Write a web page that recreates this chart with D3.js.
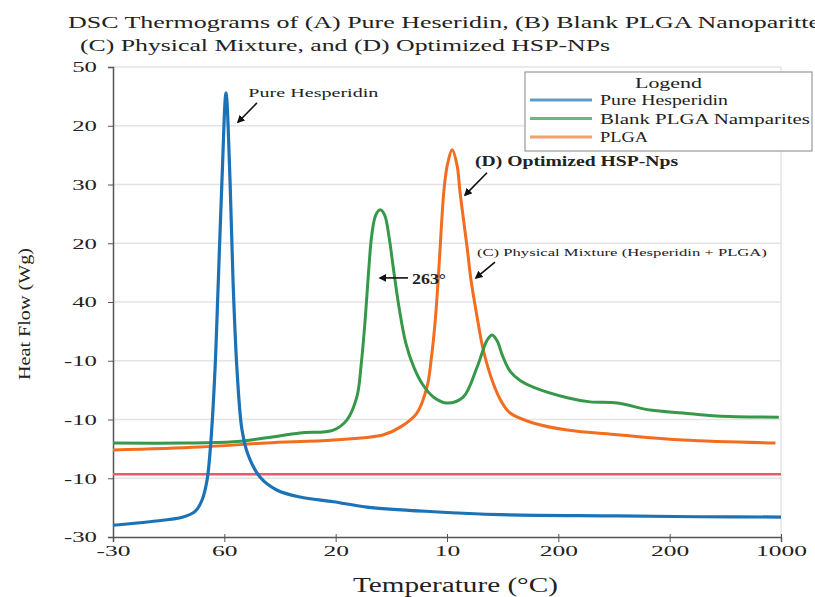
<!DOCTYPE html>
<html>
<head>
<meta charset="utf-8">
<script src="https://cdn.jsdelivr.net/npm/d3@7"></script>
<style>
  body{margin:0;background:#fff;}
  text{font-family:"Liberation Serif","Times New Roman",serif;fill:#222;}
</style>
</head>
<body>
<div class="canvas"></div>
<script>
// tick labels exactly as printed on the chart
const xTickLabels=['-30','60','20','10','200','200','1000'];
const yTickLabels=['-30','-10','-10','-10','40','20','30','20','50']; // bottom -> top

// (A) pure hesperidin
const tempBlue=[0,33,63,74,80,84.5,88,91.6,94.3,97.9,101.5,105.1,107.8,111.4,115.9,121.3,132,147,168,198,228,288,348,453,527,600];
const flowBlue=[2.0,2.6,3.4,4.4,6.3,9.7,16.5,28.4,42,60.8,75.6,60.8,43.7,28.4,18.2,14.0,10.2,8.0,6.8,6.0,5.1,4.3,3.8,3.6,3.45,3.4];

// (B) blank PLGA nanoparticles
const tempGreen=[0,63,108,138,168,198,210,219,223,226.5,229.5,232.5,236,240,244,248,252,257,263,270,278,288,300,314.5,327,336,340.5,345,350,356.7,366,377.4,408,428.6,453,482.5,512,542.7,598];
const flowGreen=[16.0,16.0,16.2,16.9,17.7,18.2,19.9,23.8,29.5,37,45,51.5,54.8,55.7,54.8,51,45.5,39,33,29,26,23.8,22.8,23.8,28.9,33.5,34.4,33.4,30.8,28.2,26.6,25.5,23.7,23.0,22.8,21.6,21.1,20.6,20.4];

// PLGA
const tempOrange=[0,78,138,198,243,258,273,282,286,289.5,292.5,295,297.5,300.5,304.6,309,311.8,318,321.6,327,332.4,341.4,349,356.7,377.4,408,453,512,595];
const flowOrange=[14.8,15.3,16.0,16.5,17.4,18.7,21.1,25.5,30.5,37,45,53,59.5,63.5,65.9,63.3,58.5,49.4,43.7,37.5,32.0,26.2,23.0,21.1,19.4,18.2,17.4,16.5,16.0];

// baseline (red)
const tempBase=[0,600];
const flowBase=[10.7,10.7];

const legendNames=['Pure Hesperidin','Blank PLGA Namparites','PLGA'];
const legendColors=['#5b9cc9','#6cb87c','#f2a06c'];

const dims={left:113,right:781,top:67,bottom:537};

const svg=d3.select('.canvas')
.append('svg')
.attr('width',815)
.attr('height',597);

const x=d3.scaleLinear().domain([0,600]).range([dims.left,dims.right]);
const y=d3.scaleLinear().domain([0,80]).range([dims.bottom,dims.top]);

// stretch text horizontally like the (squashed) original image
const widen=(sel,k)=>sel.each(function(){
    const w=this.getComputedTextLength();
    d3.select(this).attr('textLength',w*k).attr('lengthAdjust','spacingAndGlyphs');
});
const fit=(sel,w)=>sel.attr('textLength',w).attr('lengthAdjust','spacingAndGlyphs');

// grid
svg.append('g')
.selectAll('line')
.data(d3.range(10,81,10))
.enter().append('line')
.attr('x1',dims.left).attr('x2',dims.right)
.attr('y1',d=>y(d)).attr('y2',d=>y(d))
.attr('stroke','#e4e4e4')
.attr('stroke-width',1.5);

svg.append('line')
.attr('x1',dims.right).attr('x2',dims.right)
.attr('y1',dims.top).attr('y2',dims.bottom)
.attr('stroke','#e4e4e4')
.attr('stroke-width',1.5);

// axes
const xAxis=d3.axisBottom(x)
.tickValues(d3.range(0,601,100))
.tickFormat((d,i)=>xTickLabels[i])
.tickSize(5);

const yAxis=d3.axisLeft(y)
.tickValues(d3.range(0,81,10))
.tickFormat((d,i)=>yTickLabels[i])
.tickSize(5);

const xg=svg.append('g')
.attr('transform',`translate(0,${dims.bottom})`)
.call(xAxis);
xg.selectAll('text').attr('y',8).attr('font-size',15).attr('fill','#333');
xg.selectAll('line,path').attr('stroke','#555');
xg.selectAll('.tick line').attr('y1',-3);
widen(xg.selectAll('text'),1.7);

const yg=svg.append('g')
.attr('transform',`translate(${dims.left},0)`)
.call(yAxis);
yg.selectAll('text').attr('x',-16).attr('font-size',15).attr('fill','#333');
yg.selectAll('line,path').attr('stroke','#555');
widen(yg.selectAll('text'),1.65);
svg.selectAll('.domain').attr('stroke-width',1.5);

// lines
const line=d3.line()
.x(d=>x(d[0]))
.y(d=>y(d[1]))
.curve(d3.curveCatmullRom.alpha(0.5));

const series=[
    {t:tempBase,f:flowBase,color:'#e45c70',w:2.5},
    {t:tempOrange,f:flowOrange,color:'#f26d1f',w:3},
    {t:tempGreen,f:flowGreen,color:'#37984a',w:3},
    {t:tempBlue,f:flowBlue,color:'#1c72b6',w:3.2}
];

svg.append('g')
.selectAll('path')
.data(series)
.enter().append('path')
.attr('d',s=>line(d3.zip(s.t,s.f)))
.attr('fill','none')
.attr('stroke',s=>s.color)
.attr('stroke-width',s=>s.w)
.attr('stroke-linejoin','round');

// arrow marker
svg.append('defs').append('marker')
.attr('id','arr')
.attr('viewBox','0 0 10 10')
.attr('refX',8).attr('refY',5)
.attr('markerWidth',5).attr('markerHeight',5)
.attr('orient','auto')
.append('path')
.attr('d','M0,0 L10,5 L0,10 z')
.attr('fill','#111');

// annotations: text position, size, width, arrow from -> to (data units)
const notes=[
    {label:'Pure Hesperidin',tx:121.6,ty:74.9,size:13,w:130,from:[129.3,73.9],to:[112.3,70.6]},
    {label:'(D) Optimized HSP-Nps',tx:325.2,ty:63.1,size:14,w:203,from:[335.9,62.0],to:[316.2,58.2]},
    {label:'(C) Physical Mixture (Hesperidin + PLGA)',tx:326.9,ty:47.8,size:11,w:290,from:[343.1,46.8],to:[326.0,44.1]},
    {label:'263°',tx:268.6,ty:43.0,size:14,w:34,from:[265.0,44.1],to:[239.8,44.1]}
];

const ng=svg.append('g');
notes.forEach(n=>{
    ng.append('line')
    .attr('x1',x(n.from[0])).attr('y1',y(n.from[1]))
    .attr('x2',x(n.to[0])).attr('y2',y(n.to[1]))
    .attr('stroke','#111')
    .attr('stroke-width',1.6)
    .attr('marker-end','url(#arr)');
    ng.append('text')
    .attr('x',x(n.tx)).attr('y',y(n.ty))
    .attr('font-size',n.size)
    .attr('font-weight',n.size>=14?'bold':'normal')
    .text(n.label)
    .call(fit,n.w);
});

// legend
const lg=svg.append('g').attr('transform','translate(525,72)');
lg.append('rect')
.attr('width',287).attr('height',79)
.attr('fill','#fff')
.attr('stroke','#9a9a9a')
.attr('stroke-width',1.2);
lg.append('text')
.attr('x',110).attr('y',16)
.attr('font-size',15)
.text('Logend')
.call(fit,67);
const items=lg.selectAll('.item')
.data(legendNames)
.enter().append('g')
.attr('class','item')
.attr('transform',(d,i)=>`translate(0,${28+i*18.5})`);
items.append('line')
.attr('x1',5).attr('x2',67)
.attr('stroke',(d,i)=>legendColors[i])
.attr('stroke-width',3);
items.append('text')
.attr('x',75).attr('y',5)
.attr('font-size',15)
.text(d=>d)
.each(function(d,i){
    d3.select(this).call(fit,[128,210,48][i]);
});

// axis titles
svg.append('text')
.attr('x',353).attr('y',592)
.attr('font-size',20)
.text('Temperature (°C)')
.call(fit,205);

svg.append('text')
.attr('transform','translate(30,314) rotate(-90)')
.attr('text-anchor','middle')
.attr('font-size',17)
.text('Heat Flow (Wg)')
.call(fit,132);

// title
svg.append('text')
.attr('x',68).attr('y',28)
.attr('font-size',16)
.text('DSC Thermograms of (A)  Pure Heseridin, (B) Blank PLGA Nanoparitte')
.call(fit,752);
svg.append('text')
.attr('x',80).attr('y',51)
.attr('font-size',16)
.text('(C) Physical Mixture, and (D) Optimized HSP-NPs')
.call(fit,530);
</script>
</body>
</html>
